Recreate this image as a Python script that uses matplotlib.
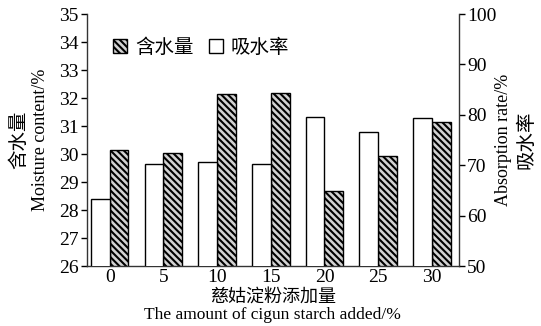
import matplotlib
matplotlib.use("Agg")
import matplotlib.pyplot as plt
import numpy as np
from matplotlib.patches import Patch

plt.rcParams["hatch.linewidth"] = 1.5

# Data
additions = ["0", "5", "10", "15", "20", "25", "30"]
moisture = [30.15, 30.03, 32.14, 32.18, 28.67, 29.93, 31.16]      # %, left axis
absorption = [63.3, 70.2, 70.6, 70.2, 79.6, 76.6, 79.4]           # %, right axis

serif = ["Liberation Serif", "DejaVu Serif"]
cjk = ["Noto Sans CJK SC", "DejaVu Sans"]
hatch = "\\\\\\\\\\"

fig = plt.figure(figsize=(5.41, 3.26), dpi=100)
ax1 = fig.add_axes([0.161, 0.184, 0.687, 0.773])
ax2 = ax1.twinx()

x = np.arange(len(additions))
w = 0.35

ax2.bar(x - w / 2, absorption, width=w, color="white", edgecolor="black", linewidth=1.0)
ax1.bar(x + w / 2, moisture, width=w, color="#d2d2d2", edgecolor="black",
        linewidth=1.0, hatch=hatch)

ax1.set_xlim(-0.42, 6.5)
ax1.set_ylim(26, 35)
ax2.set_ylim(50, 100)
ax1.set_yticks(np.arange(26, 36, 1))
ax2.set_yticks(np.arange(50, 101, 10))
ax1.set_xticks(x)
ax1.set_xticklabels(additions)

for ax in (ax1, ax2):
    ax.spines["top"].set_visible(False)
    for s in ax.spines.values():
        s.set_color("#333333")
        s.set_linewidth(1.0)
ax1.spines["right"].set_visible(False)
ax2.spines["left"].set_visible(False)
ax2.spines["bottom"].set_visible(False)

ax1.tick_params(axis="x", length=0, pad=2)
ax1.tick_params(axis="y", direction="out", length=4, width=1.0, pad=2)
ax2.tick_params(axis="y", direction="out", length=4, width=1.0, pad=2)
for lab in ax1.get_xticklabels() + ax1.get_yticklabels() + ax2.get_yticklabels():
    lab.set_fontfamily(serif)
    lab.set_fontsize(14)

# Axis titles
fig.text(0.034, 0.57, "含水量", rotation=90, ha="center", va="center",
         fontsize=14, family=cjk)
fig.text(0.074, 0.57, "Moisture content/%", rotation=90, ha="center", va="center",
         fontsize=13, family=serif)
fig.text(0.931, 0.57, "Absorption rate/%", rotation=90, ha="center", va="center",
         fontsize=13, family=serif)
fig.text(0.973, 0.57, "吸水率", rotation=90, ha="center", va="center",
         fontsize=14, family=cjk)
fig.text(0.504, 0.091, "慈姑淀粉添加量", ha="center", va="center",
         fontsize=13, family=cjk)
fig.text(0.504, 0.033, "The amount of cigun starch added/%", ha="center", va="center",
         fontsize=12.5, family=serif)

handles = [
    Patch(facecolor="#d2d2d2", edgecolor="black", hatch=hatch, label="含水量"),
    Patch(facecolor="white", edgecolor="black", label="吸水率"),
]
leg = ax2.legend(handles=handles, loc="upper left", bbox_to_anchor=(0.05, 0.94),
                 ncol=2, frameon=False, prop={"family": cjk, "size": 14},
                 handlelength=0.7, handleheight=0.7, handletextpad=0.4,
                 columnspacing=0.8, borderaxespad=0)

fig.savefig("out.png", dpi=100)
